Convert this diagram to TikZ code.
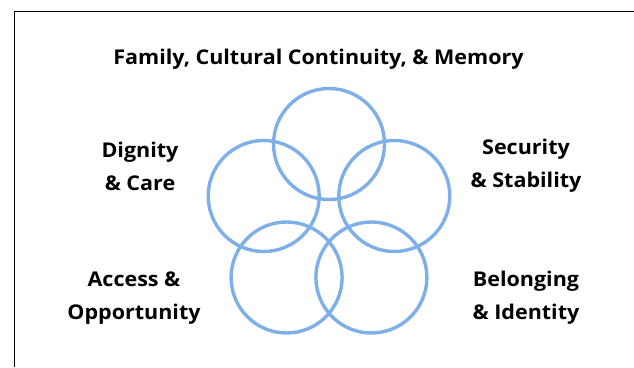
\documentclass[tikz,border=0pt]{standalone}
\usepackage{fontspec}
\setmainfont{Open Sans}[FakeStretch=1.06]
\usepackage{tikz}
\usetikzlibrary{calc}

\definecolor{ringblue}{RGB}{127,175,232}

\begin{document}
\begin{tikzpicture}[x=1pt,y=-1pt,
    ring/.style={circle,draw=ringblue,line width=3.4pt,minimum size=111pt,inner sep=0pt},
    label/.style={font=\fontsize{20.3}{33}\selectfont\bfseries,align=center,inner sep=0pt}]
  \useasboundingbox (0,0) rectangle (634,367);

  %% Frame round the picture
  \coordinate (FL) at (14,367);
  \coordinate (FC) at (14,11);
  \coordinate (FR) at (634,11);
  \draw[line width=1pt] (FL) -- (FC) -- (FR);

  %% The five rings
  \foreach \n/\x/\y in {T/329/144, L/263.7/196, R/394.3/196, BL/286.6/277.5, BR/371.4/277.5}
  {
    \node[ring] (C\n) at (\x,\y) {};
  }

  %% Labels
  \node[label,anchor=base] (TITLE) at (318.5,64) {Family, Cultural Continuity, \& Memory};
  \node[label] (DIGNITY) at (140,166) {Dignity\\\& Care};
  \node[label] (SECURITY) at (526,166) {Security\\\& Stability};
  \node[label] (ACCESS) at (134,298) {Access \&\\Opportunity};
  \node[label] (BELONG) at (526,298) {Belonging\\\& Identity};

\end{tikzpicture}
\end{document}
